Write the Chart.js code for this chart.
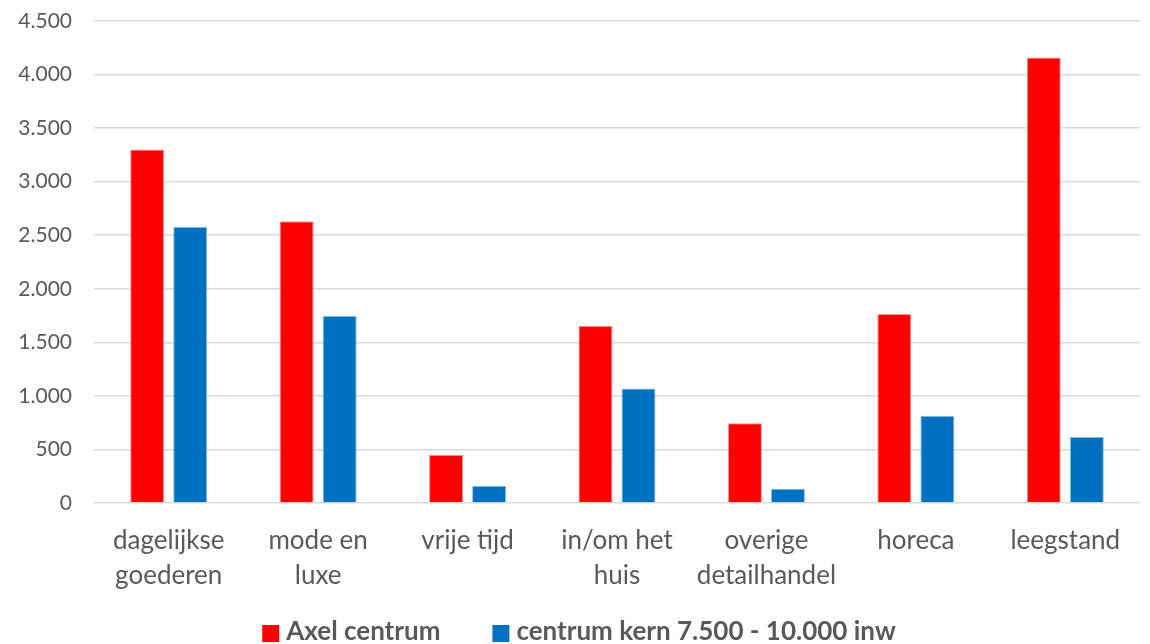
<!DOCTYPE html>
<html>
<head>
<meta charset="utf-8">
<script src="https://cdn.jsdelivr.net/npm/chart.js@4/dist/chart.umd.min.js"></script>
<style>
  html, body { margin: 0; padding: 0; background: #ffffff; }
  #wrap { width: 1150px; height: 644px; position: relative; }
</style>
</head>
<body>
<div id="wrap"><canvas id="chart" width="1150" height="644"></canvas></div>
<script>
// Categories (two-line labels)
const categories = [
  ['dagelijkse', 'goederen'],
  ['mode en', 'luxe'],
  ['vrije tijd'],
  ['in/om het', 'huis'],
  ['overige', 'detailhandel'],
  ['horeca'],
  ['leegstand']
];

// Series
const seriesNames = ['Axel centrum', 'centrum kern 7.500 - 10.000 inw'];
const axelCentrum = [3300, 2630, 450, 1655, 745, 1765, 4160];
const centrumKern = [2578, 1745, 160, 1070, 132, 815, 617];
const seriesColors = ['#FF0000', '#0070C0'];

// Value axis
const yMin = 0;
const yMax = 4500;
const yStep = 500;

const FONT = 'Lato, "Open Sans", sans-serif';
const TEXT = '#595959';

// Dutch thousands separator: 4500 -> "4.500"
function formatNL(v) {
  return String(Math.round(v)).replace(/\B(?=(\d{3})+(?!\d))/g, '.');
}

// Bottom legend: square swatch, tight gap to the label, wide gap between items
const bottomLegend = {
  id: 'bottomLegend',
  afterDraw(chart) {
    const ctx = chart.ctx;
    const box = 17, boxGap = 7, itemGap = 52;
    const centerX = 579, textY = 632, boxTop = 625;
    ctx.save();
    ctx.font = `bold 26px ${FONT}`;
    ctx.textBaseline = 'middle';
    ctx.textAlign = 'left';
    const items = chart.data.datasets.map(ds => ({
      label: ds.label, color: ds.backgroundColor, w: ctx.measureText(ds.label).width
    }));
    const total = items.reduce((s, it) => s + box + boxGap + it.w, 0) + itemGap * (items.length - 1);
    let x = centerX - total / 2;
    items.forEach(it => {
      ctx.fillStyle = it.color;
      ctx.fillRect(x, boxTop, box, box);
      ctx.fillStyle = TEXT;
      ctx.fillText(it.label, x + box + boxGap, textY);
      x += box + boxGap + it.w + itemGap;
    });
    ctx.restore();
  }
};

new Chart(document.getElementById('chart'), {
  type: 'bar',
  data: {
    labels: categories,
    datasets: [
      {
        label: seriesNames[0],
        data: axelCentrum,
        backgroundColor: seriesColors[0],
        borderColor: 'rgba(255,140,140,0.9)',
        borderWidth: 1,
        categoryPercentage: 0.576,
        barPercentage: 0.79
      },
      {
        label: seriesNames[1],
        data: centrumKern,
        backgroundColor: seriesColors[1],
        borderColor: 'rgba(120,180,225,0.9)',
        borderWidth: 1,
        categoryPercentage: 0.576,
        barPercentage: 0.79
      }
    ]
  },
  plugins: [bottomLegend],
  options: {
    responsive: false,
    animation: false,
    layout: { padding: { top: 21, right: 10, left: 0, bottom: 50 } },
    plugins: {
      tooltip: { enabled: false },
      legend: { display: false }
    },
    scales: {
      x: {
        grid: { display: false },
        border: { display: false },
        ticks: {
          color: TEXT,
          font: { family: FONT, size: 26, lineHeight: '35px' },
          padding: 12,
          maxRotation: 0,
          autoSkip: false
        },
        afterFit(scale) { scale.height = 91; }
      },
      y: {
        min: yMin,
        max: yMax,
        border: { display: false },
        grid: { color: '#D9D9D9', lineWidth: 1.5, drawTicks: false },
        ticks: {
          stepSize: yStep,
          color: TEXT,
          padding: 22,
          font: { family: FONT, size: 21 },
          callback: (v) => formatNL(v)
        },
        afterFit(scale) {
          scale.width = 94;
          scale.paddingTop = 0;
          scale.paddingBottom = 0;
        }
      }
    }
  }
});
</script>
</body>
</html>
